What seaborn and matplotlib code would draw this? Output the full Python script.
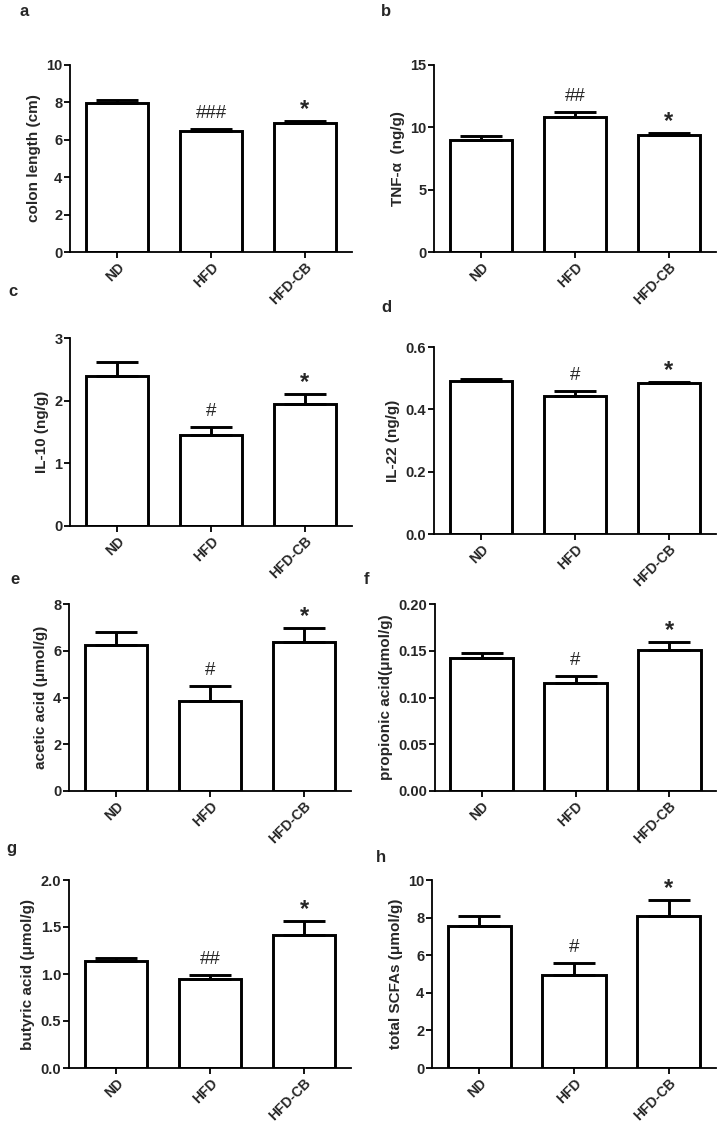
import matplotlib
matplotlib.use("Agg")
import matplotlib.pyplot as plt
import seaborn as sns
import numpy as np
import pandas as pd

sns.set_theme(style="ticks")
plt.rcParams['font.family'] = ['Liberation Sans', 'DejaVu Sans']

groups = ["ND", "HFD", "HFD-CB"]

colon_mean = [7.99, 6.48, 6.92]
colon_sem = [0.14, 0.12, 0.11]
tnf_mean = [9.0, 10.81, 9.42]
tnf_sem = [0.34, 0.45, 0.11]
il10_mean = [2.39, 1.46, 1.95]
il10_sem = [0.23, 0.125, 0.15]
il22_mean = [0.491, 0.442, 0.485]
il22_sem = [0.005, 0.016, 0.003]
acetic_mean = [6.26, 3.87, 6.38]
acetic_sem = [0.54, 0.64, 0.59]
propionic_mean = [0.1427, 0.1157, 0.1505]
propionic_sem = [0.0046, 0.0071, 0.0093]
butyric_mean = [1.137, 0.945, 1.41]
butyric_sem = [0.035, 0.043, 0.15]
total_mean = [7.55, 4.96, 8.06]
total_sem = [0.53, 0.64, 0.86]

ylabels = ["colon length (cm)", "TNF-α  (ng/g)", "IL-10 (ng/g)", "IL-22 (ng/g)",
           "acetic acid (μmol/g)", "propionic acid(μmol/g)",
           "butyric acid (μmol/g)", "total SCFAs (μmol/g)"]
panel_letters = ["a", "b", "c", "d", "e", "f", "g", "h"]
marks = [["", "###", "*"], ["", "##", "*"], ["", "#", "*"], ["", "#", "*"],
         ["", "#", "*"], ["", "#", "*"], ["", "##", "*"], ["", "#", "*"]]
yticks = [[0, 2, 4, 6, 8, 10], [0, 5, 10, 15], [0, 1, 2, 3], [0.0, 0.2, 0.4, 0.6],
          [0, 2, 4, 6, 8], [0.00, 0.05, 0.10, 0.15, 0.20], [0.0, 0.5, 1.0, 1.5, 2.0],
          [0, 2, 4, 6, 8, 10]]
ytickfmt = ["{:.0f}", "{:.0f}", "{:.0f}", "{:.1f}", "{:.0f}", "{:.2f}", "{:.1f}", "{:.0f}"]

means = [colon_mean, tnf_mean, il10_mean, il22_mean, acetic_mean, propionic_mean,
         butyric_mean, total_mean]
sems = [colon_sem, tnf_sem, il10_sem, il22_sem, acetic_sem, propionic_sem,
        butyric_sem, total_sem]

W, H = 717, 1125
fig = plt.figure(figsize=(W / 100, H / 100), dpi=100)

# axes boxes in pixels: left, top, right, bottom
boxes = [(70, 65, 352, 252), (434, 65, 716, 252),
         (70, 338, 352, 526), (434, 347, 716, 534),
         (69, 604, 351, 791), (435, 604, 716, 791),
         (69, 880, 351, 1068), (432, 880, 716, 1068)]
letter_pos = [(20, 12), (381, 12), (8, 292), (381, 307),
              (10, 579), (364, 579), (6, 849), (376, 857)]

for i in range(8):
    l, t, r, b = boxes[i]
    ax = fig.add_axes([l / W, 1 - b / H, (r - l) / W, (b - t) / H])
    df = pd.DataFrame({"group": groups, "value": means[i]})
    sns.barplot(data=df, x="group", y="value", color="white", saturation=1,
                edgecolor="black", linewidth=2.1, width=0.67, errorbar=None, ax=ax,
                zorder=2)
    x = np.arange(len(groups))
    ax.errorbar(x, means[i], yerr=[np.zeros(3), sems[i]], fmt="none", ecolor="black",
                elinewidth=2.1, capsize=15, capthick=2.1, zorder=3)
    ax.set_xlim(-0.5, 2.5)
    ax.set_ylim(yticks[i][0], yticks[i][-1])
    ax.set_yticks(yticks[i])
    ax.set_yticklabels([ytickfmt[i].format(v) for v in yticks[i]], fontweight="bold",
                       fontsize=10.5)
    ax.set_xticks(x)
    ax.set_xticklabels(groups, rotation=45, ha="right", rotation_mode="anchor",
                       fontweight="bold", fontsize=10)
    ax.set_xlabel("")
    ax.set_ylabel(ylabels[i], fontweight="bold", fontsize=11, labelpad=4)
    for s in ["top", "right"]:
        ax.spines[s].set_visible(False)
    for s in ["left", "bottom"]:
        ax.spines[s].set_linewidth(1.3)
        ax.spines[s].set_color("black")
    ax.tick_params(axis="both", direction="out", length=4, width=1.3, color="black",
                   pad=1.5)
    ax.tick_params(axis="x", pad=2)
    for j in range(3):
        m = marks[i][j]
        if not m:
            continue
        top = means[i][j] + sems[i][j]
        if m == "*":
            ax.annotate(m, (j, top), xytext=(0, 0), textcoords="offset points",
                        ha="center", va="bottom", fontsize=17, fontweight="bold")
        else:
            ax.annotate(m, (j, top), xytext=(0, 5), textcoords="offset points",
                        ha="center", va="bottom", fontsize=13.5)
    lx, ly = letter_pos[i]
    fig.text(lx / W, 1 - ly / H, panel_letters[i], fontsize=12, fontweight="bold",
             ha="left", va="center")

fig.savefig("out.png", dpi=100, facecolor="white")
